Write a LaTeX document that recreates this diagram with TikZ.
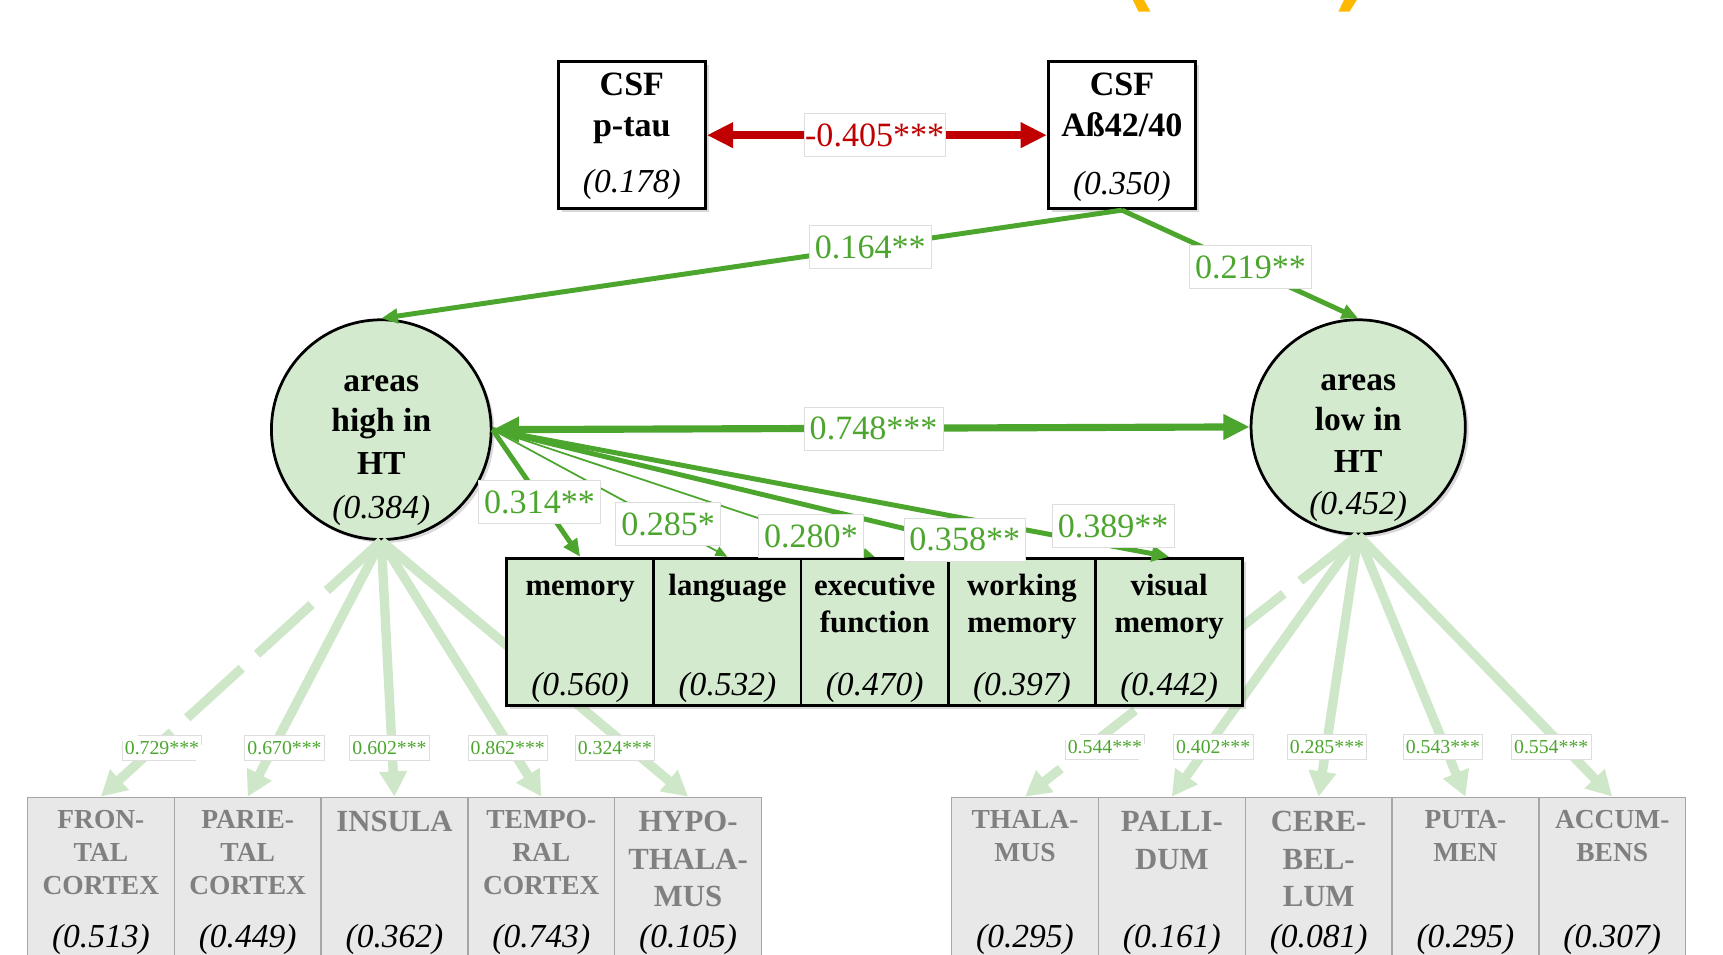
\documentclass[tikz,border=0pt]{standalone}
\usepackage{fontspec}
\setmainfont{Liberation Serif}
\usetikzlibrary{arrows.meta,shadows}

\definecolor{grn}{RGB}{76,166,46}
\definecolor{lgfill}{RGB}{212,234,207}
\definecolor{lgline}{RGB}{206,231,200}
\definecolor{gfill}{RGB}{232,232,232}
\definecolor{gline}{RGB}{166,166,166}
\definecolor{gtext}{RGB}{128,128,128}
\definecolor{dred}{RGB}{192,0,0}
\definecolor{orng}{RGB}{255,184,0}
\definecolor{lblbord}{RGB}{222,222,222}

\newcommand{\fsz}[1]{\fontsize{#1}{#1}\selectfont}

\tikzset{
  shad/.style={drop shadow={shadow xshift=3pt, shadow yshift=-3pt, opacity=0.3}},
  csfbox/.style={draw=black, line width=2.5pt, fill=white, minimum width=134pt, minimum height=134pt, inner sep=0pt, shad},
  latent/.style={circle, draw=black, line width=2.5pt, fill=lgfill, inner sep=0pt, shad},
  cogbox/.style={draw=black, line width=2.5pt, fill=lgfill, minimum width=134pt, minimum height=134pt, inner sep=0pt, shad},
  gbox/.style={draw=gline, line width=1.2pt, fill=gfill, minimum width=133.6pt, minimum height=170pt, inner sep=0pt, anchor=north},
  bt/.style={font=\fsz{31}\bfseries, anchor=base, inner sep=0pt},
  ct/.style={font=\fsz{30.5}\bfseries, anchor=base, inner sep=0pt},
  cgt/.style={font=\fsz{28}\bfseries, anchor=base, inner sep=0pt},
  gts/.style={font=\fsz{25}\bfseries, text=gtext, anchor=base, inner sep=0pt},
  gtl/.style={font=\fsz{28}\bfseries, text=gtext, anchor=base, inner sep=0pt},
  vt/.style={font=\fsz{30.5}\itshape, anchor=base, inner sep=0pt},
  lbl/.style={fill=white, draw=lblbord, line width=0.8pt, text=grn, font=\fsz{31}, inner xsep=5pt, inner ysep=0pt, minimum height=39pt},
  slbl/.style={fill=white, draw=lblbord, line width=0.6pt, text=grn, font=\fsz{18}, inner xsep=2.5pt, inner ysep=0pt, minimum height=22pt, pos=0.79, yshift=-4.5pt},
  load/.style={draw=lgline, line width=8.5pt, -{Triangle[length=23pt,width=24pt]}},
  loaddash/.style={load, dash pattern=on 67pt off 19pt},
  gthick/.style={draw=grn, line width=4.5pt, -{Triangle[length=16pt,width=14pt]}},
  gthin/.style={draw=grn, line width=1.6pt, -{Triangle[length=11pt,width=9pt]}},
  gtop/.style={draw=grn, line width=4.5pt, -{Triangle[length=15pt,width=13pt]}},
  gdbl/.style={draw=grn, line width=6.5pt, {Triangle[length=24pt,width=22pt]}-{Triangle[length=24pt,width=22pt]}},
  rdbl/.style={draw=dred, line width=7pt, {Triangle[length=24pt,width=22pt]}-{Triangle[length=24pt,width=22pt]}},
}

\begin{document}
\begin{tikzpicture}[x=1pt,y=-1pt]
\useasboundingbox (0,0) rectangle (1568,869);
\clip (0,0) rectangle (1568,869);

% orange fragments at the top
\fill[orng] (1030,-2) -- (1040,-2) -- (1047,10.6) -- (1036,10.6) -- cycle;
\fill[orng] (1224,-2) -- (1236,-2) -- (1228,10.6) -- (1218,10.6) -- cycle;

% CSF boxes
\node[csfbox] (ptau) at (575,123) {};
\node[bt] (ptau1) at (575,87) {CSF};
\node[bt] (ptau2) at (575,124) {p-tau};
\node[vt] (ptau3) at (575,175) {(0.178)};

\node[csfbox] (ab) at (1021,123) {};
\node[bt] (ab1) at (1021,87) {CSF};
\node[bt] (ab2) at (1021,124) {Aß42/40};
\node[vt] (ab3) at (1021,177) {(0.350)};

% latent circles
\node[latent, minimum size=200pt] (high) at (347,391) {};
\node[ct] (high1) at (347,356) {areas};
\node[ct] (high2) at (347,393) {high in};
\node[ct] (high3) at (347,432) {HT};
\node[vt] (high4) at (347,472) {(0.384)};

\node[latent, minimum size=195pt] (low) at (1236,388.5) {};
\node[ct] (low1) at (1236,355) {areas};
\node[ct] (low2) at (1236,392) {low in};
\node[ct] (low3) at (1236,430) {HT};
\node[vt] (low4) at (1236,468) {(0.452)};

% gray region boxes (left)
\node[gbox] (fron) at (91.8,725) {};
\node[gbox] (pari) at (225.4,725) {};
\node[gbox] (insu) at (359,725) {};
\node[gbox] (temp) at (492.6,725) {};
\node[gbox] (hypo) at (626.2,725) {};
% gray region boxes (right)
\node[gbox] (thal) at (932.8,725) {};
\node[gbox] (pall) at (1066.4,725) {};
\node[gbox] (cere) at (1200,725) {};
\node[gbox] (puta) at (1333.6,725) {};
\node[gbox] (accu) at (1467.2,725) {};

\node[gts] (fron1) at (91.8,754) {FRON-};
\node[gts] (fron2) at (91.8,784) {TAL};
\node[gts] (fron3) at (91.8,814) {CORTEX};
\node[gts] (pari1) at (225.4,754) {PARIE-};
\node[gts] (pari2) at (225.4,784) {TAL};
\node[gts] (pari3) at (225.4,814) {CORTEX};
\node[gtl] (insu1) at (359,757) {INSULA};
\node[gts] (temp1) at (492.6,754) {TEMPO-};
\node[gts] (temp2) at (492.6,784) {RAL};
\node[gts] (temp3) at (492.6,814) {CORTEX};
\node[gtl] (hypo1) at (626.2,757) {HYPO-};
\node[gtl] (hypo2) at (626.2,791) {THALA-};
\node[gtl] (hypo3) at (626.2,825) {MUS};

\node[gts] (thal1) at (932.8,754) {THALA-};
\node[gts] (thal2) at (932.8,784) {MUS};
\node[gtl] (pall1) at (1066.4,757) {PALLI-};
\node[gtl] (pall2) at (1066.4,791) {DUM};
\node[gtl] (cere1) at (1200,757) {CERE-};
\node[gtl] (cere2) at (1200,791) {BEL-};
\node[gtl] (cere3) at (1200,825) {LUM};
\node[gts] (puta1) at (1333.6,754) {PUTA-};
\node[gts] (puta2) at (1333.6,784) {MEN};
\node[gts] (accu1) at (1467.2,754) {ACCUM-};
\node[gts] (accu2) at (1467.2,784) {BENS};

\node[vt] (fronv) at (91.8,862) {(0.513)};
\node[vt] (pariv) at (225.4,862) {(0.449)};
\node[vt] (insuv) at (359,862) {(0.362)};
\node[vt] (tempv) at (492.6,862) {(0.743)};
\node[vt] (hypov) at (626.2,862) {(0.105)};
\node[vt] (thalv) at (932.8,862) {(0.295)};
\node[vt] (pallv) at (1066.4,862) {(0.161)};
\node[vt] (cerev) at (1200,862) {(0.081)};
\node[vt] (putav) at (1333.6,862) {(0.295)};
\node[vt] (accuv) at (1467.2,862) {(0.307)};

% loadings
\draw[loaddash] (high.south) -- (fron.north) node[slbl, xshift=2pt] (l1) {0.729***};
\draw[load] (high.south) -- (pari.north) node[slbl, xshift=8pt] (l2) {0.670***};
\draw[load] (high.south) -- (insu.north) node[slbl, xshift=-2pt] (l3) {0.602***};
\draw[load] (high.south) -- (temp.north) node[slbl] (l4) {0.862***};
\draw[load] (high.south) -- (hypo.north) node[slbl, xshift=-8pt] (l5) {0.324***};

\draw[loaddash] (low.south) -- (thal.north) node[slbl, xshift=9pt] (r1) {0.544***};
\draw[load] (low.south) -- (pall.north) node[slbl, xshift=2pt] (r2) {0.402***};
\draw[load] (low.south) -- (cere.north) node[slbl] (r3) {0.285***};
\draw[load] (low.south) -- (puta.north) node[slbl] (r4) {0.543***};
\draw[load] (low.south) -- (accu.north) node[slbl, xshift=-7pt] (r5) {0.554***};

% cognitive boxes
\node[cogbox] (mem) at (528,575) {};
\node[cogbox] (lang) at (662,575) {};
\node[cogbox] (exec) at (796,575) {};
\node[cogbox] (work) at (930,575) {};
\node[cogbox] (vis) at (1064,575) {};

\node[cgt] (mem1) at (528,542) {memory};
\node[cgt] (lang1) at (662,542) {language};
\node[cgt] (exec1) at (796,542) {executive};
\node[cgt] (exec2) at (796,576) {function};
\node[cgt] (work1) at (930,542) {working};
\node[cgt] (work2) at (930,576) {memory};
\node[cgt] (vis1) at (1064,542) {visual};
\node[cgt] (vis2) at (1064,576) {memory};
\node[vt] (memv) at (528,633) {(0.560)};
\node[vt] (langv) at (662,633) {(0.532)};
\node[vt] (execv) at (796,633) {(0.470)};
\node[vt] (workv) at (930,633) {(0.397)};
\node[vt] (visv) at (1064,633) {(0.442)};

% regressions onto cognition
\draw[gthick] (high.east) -- (mem.north);
\draw[gthin] (high.east) -- (lang.north);
\draw[gthin] (high.east) -- (exec.north);
\draw[gthick] (high.east) -- (work.north);
\draw[gthick] (high.east) -- (vis.north);

% CSF paths
\draw[gtop] (ab.south) -- (high.north);
\draw[gtop] (ab.south) -- (low.north);
\draw[gdbl] (high.east) -- (low.west);
\draw[rdbl] (ptau.east) -- (ab.west);

% labels
\node[lbl] (e1) at (491,457) {0.314**};
\node[lbl] (e2) at (608,477) {0.285*};
\node[lbl] (e3) at (738,488) {0.280*};
\node[lbl] (e4) at (878,491) {0.358**};
\node[lbl] (e5) at (1013,479) {0.389**};
\node[lbl] (c1) at (792,225) {0.164**};
\node[lbl] (c2) at (1138,243) {0.219**};
\node[lbl] (c3) at (795,390) {0.748***};
\node[lbl, text=dred, inner xsep=1pt] (c4) at (796,123) {-0.405***};

\end{tikzpicture}
\end{document}
